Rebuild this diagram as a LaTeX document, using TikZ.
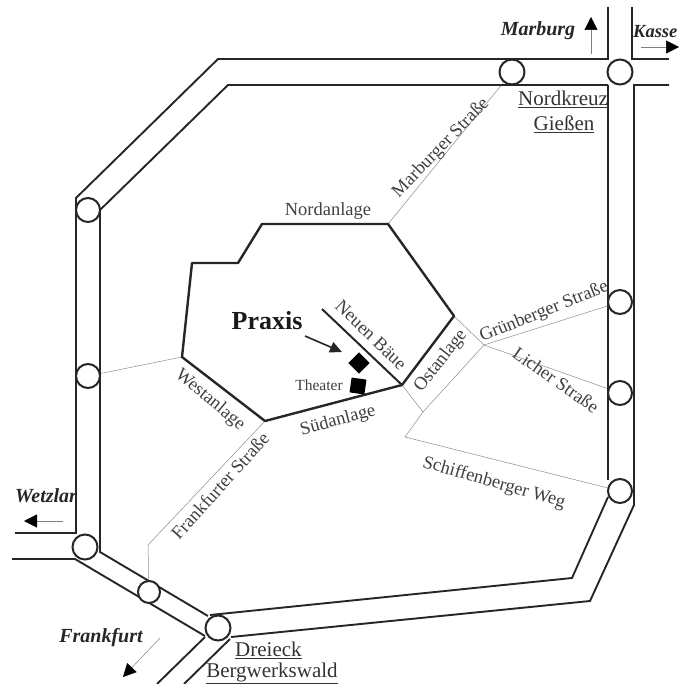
\documentclass[tikz,border=0pt]{standalone}
\usepackage{fontspec}
\setmainfont{Liberation Serif}
\usetikzlibrary{arrows.meta,backgrounds}
\tikzset{
  road/.style={line width=1.9pt,draw=black!85},
  city/.style={line width=2.4pt,draw=black!85,line join=round},
  side/.style={line width=0.5pt,draw=black!45},
  junction/.style={circle,draw=black!85,line width=2pt,fill=white,inner sep=0pt,minimum size=24pt},
  bigjunction/.style={junction,minimum size=25pt},
  smalljunction/.style={junction,minimum size=22pt},
  lab/.style={font=\fontsize{18.5}{18.5}\selectfont,text=black!75,inner sep=0pt},
  place/.style={font=\fontsize{20}{20}\selectfont\bfseries\itshape,text=black!85,inner sep=0pt},
  ulab/.style={font=\fontsize{21}{21}\selectfont,text=black!80,inner sep=0pt},
  dirarrow/.style={line width=0.5pt,draw=black!50,-{Triangle[length=13pt,width=13pt,color=black]}},
}
\begin{document}
\begin{tikzpicture}[x=1pt,y=-1pt]
\useasboundingbox (0,0) rectangle (679,684);
% coordinates
\coordinate (n1) at (388,224);
\coordinate (n2) at (454,316);
\coordinate (n3) at (402,385);
\coordinate (n4) at (265,421);
\coordinate (n5) at (182,357);
\coordinate (o1) at (484,345);
\coordinate (o2) at (423,412);
% junctions
\node[bigjunction] (jn) at (512,72) {};
\node[bigjunction] (jk) at (620,72) {};
\node[junction] (jnw) at (88,210) {};
\node[junction] (jw) at (88,376) {};
\node[junction] (jg) at (620,302) {};
\node[junction] (jl) at (620,393) {};
\node[junction] (js) at (620,491) {};
\node[bigjunction] (jwz) at (85,547) {};
\node[smalljunction] (jf) at (149,592) {};
\node[bigjunction] (jd) at (218,628) {};
\begin{scope}[on background layer]
% thin streets
\draw[side] (n1) -- (jn);
\draw[side] (n5) -- (jw);
\draw[side] (n4) -- (148,545) -- (jf);
\draw[side] (n2) -- (o1) -- (jg);
\draw[side] (o1) -- (jl);
\draw[side] (n3) -- (o2) -- (o1);
\draw[side] (o2) -- (405,437) -- (js);
% motorway
\draw[road] (608,7) -- (608,59) -- (218,59) -- (76,198) -- (76,533) -- (15,533);
\draw[road] (632,7) -- (632,59) -- (669,59);
\draw[road] (669,85) -- (634,85) -- (634,505) -- (590,601) -- (231,637);
\draw[road] (608,85) -- (228,85) -- (100,210) -- (100,552) -- (208,616);
\draw[road] (608,85) -- (608,480);
\draw[road] (12,559) -- (75,559) -- (205,636);
\draw[road] (608,497) -- (572,578) -- (210,615);
\draw[road] (205,637) -- (157,684);
\draw[road] (230,639) -- (184,684);
\end{scope}
% city ring
\draw[city] (n5) -- (192,263) -- (238,263) -- (262,224) -- (n1) -- (n2) -- (n3) -- (n4) -- cycle;
\draw[city,line width=2pt] (322,309) -- (n3);
% buildings
\node[fill=black,minimum size=15pt,inner sep=0pt,rotate=45] (praxisbox) at (359,363) {};
\node[fill=black,minimum size=15pt,inner sep=0pt,rotate=-8] (theaterbox) at (358,386) {};
\node[font=\fontsize{26}{26}\selectfont\bfseries,text=black!90,inner sep=0pt] (praxis) at (267,321) {Praxis};
\coordinate (pa) at (305,336);
\draw[line width=1.6pt,draw=black!85,-{Triangle[length=12pt,width=11pt]}] (pa) -- (342,352);
\node[font=\fontsize{15.5}{15.5}\selectfont,text=black!75,inner sep=0pt] (theater) at (319,385) {Theater};
% street labels
\node[lab] (l1) at (328,211) {Nordanlage};
\node[lab,rotate=46] (l2) at (441,148) {Marburger Straße};
\node[lab,rotate=-44] (l4) at (371,335) {Neuen Bäue};
\node[lab,rotate=52] (l5) at (441,361) {Ostanlage};
\node[lab,rotate=15] (l6) at (338,421) {Südanlage};
\node[lab,rotate=-40] (l7) at (210,400) {Westanlage};
\node[lab,rotate=48] (l8) at (220,486) {Frankfurter Straße};
\node[lab,rotate=22] (l10) at (544,312) {Grünberger Straße};
\node[lab,rotate=-35] (l11) at (556,380) {Licher Straße};
\node[lab,rotate=-16] (l12) at (494,483) {Schiffenberger Weg};
% places
\node[place] (m) at (538,31) {Marburg};
\coordinate (ma) at (591,54);
\draw[dirarrow] (ma) -- (591,17);
\node[place,anchor=west,font=\fontsize{18.5}{18.5}\selectfont\bfseries\itshape] (k) at (633,32) {Kasse};
\coordinate (ka) at (641,47);
\draw[dirarrow] (ka) -- (679,47);
\node[place] (wz) at (46,496) {Wetzlar};
\coordinate (wa) at (63,521);
\draw[dirarrow] (wa) -- (24,521);
\node[place] (ff) at (101,638) {Frankfurt};
\coordinate (fa) at (160,638);
\draw[dirarrow] (fa) -- (123,677);
% underlined
\node[ulab] (nk) at (563,99) {\underline{Nordkreuz}};
\node[ulab] (gi) at (564,124) {\underline{Gießen}};
\node[ulab,anchor=west] (dr) at (235,650) {\underline{Dreieck}};
\node[ulab] (bw) at (272,673) {\underline{Bergwerkswald}};
\end{tikzpicture}
\end{document}
